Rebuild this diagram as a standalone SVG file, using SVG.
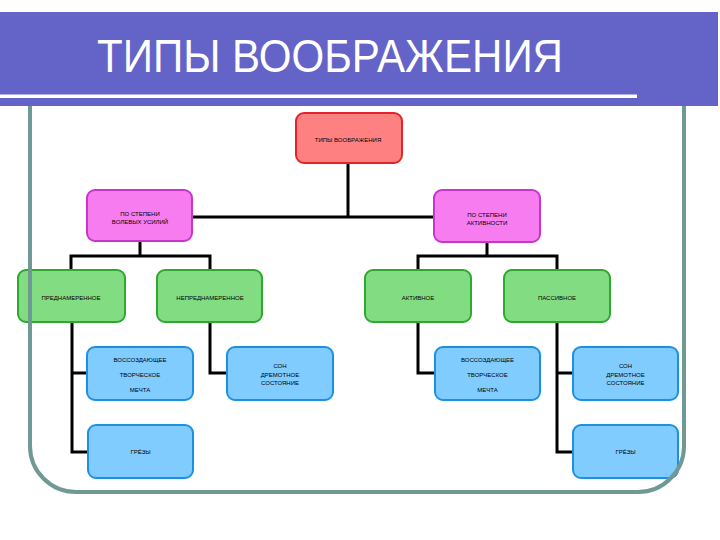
<svg xmlns="http://www.w3.org/2000/svg" width="720" height="540" viewBox="0 0 720 540">
<style>
.n rect{stroke-width:2}
.root rect{fill:#FF8080;stroke:#E0262A}
.mag rect{fill:#F67CF0;stroke:#C836C8}
.grn rect{fill:#82DC82;stroke:#2EA82E}
.blu rect{fill:#80CCFF;stroke:#1E90E0}
.n text{font-family:"Liberation Sans",Arial,sans-serif;font-size:6px;fill:#000;text-anchor:middle}
#connectors path{fill:none;stroke:#000;stroke-width:3}
.title{font-family:"Liberation Sans",Arial,sans-serif;font-size:47px;fill:#fff}
</style>
<rect x="0" y="0" width="720" height="540" fill="#fff"/>
<g id="title-bar">
<rect x="0" y="12" width="718" height="94" fill="#6464C8"/>
<rect x="0" y="94.5" width="637" height="3.5" fill="#fff"/>
<text class="title" x="97" y="72" textLength="466" lengthAdjust="spacingAndGlyphs">ТИПЫ ВООБРАЖЕНИЯ</text>
</g>
<g id="connectors">
<path d="M348,163 V217 M192,217 H434"/>
<path d="M140,241 V256 M71,270 V256 H210 V270"/>
<path d="M487,242 V256 M418,270 V256 H557 V270"/>
<path d="M72,322 V452 H88 M72,373 H87"/>
<path d="M210,322 V373 H227"/>
<path d="M418,322 V373 H435"/>
<path d="M557,322 V452 H573 M557,373 H573"/>
</g>
<g id="n-root" class="n root"><rect x="296" y="113" width="106" height="50" rx="8"/><text x="348" y="142">ТИПЫ ВООБРАЖЕНИЯ</text></g>
<g id="n-vol" class="n mag"><rect x="87" y="190" width="105" height="51" rx="8"/><text x="140" y="216">ПО СТЕПЕНИ</text><text x="140" y="224">ВОЛЕВЫХ УСИЛИЙ</text></g>
<g id="n-act" class="n mag"><rect x="434" y="190" width="106" height="52" rx="8"/><text x="487" y="217">ПО СТЕПЕНИ</text><text x="487" y="225">АКТИВНОСТИ</text></g>
<g id="n-pred" class="n grn"><rect x="18" y="270" width="107" height="52" rx="8"/><text x="71" y="300">ПРЕДНАМЕРЕННОЕ</text></g>
<g id="n-nepred" class="n grn"><rect x="157" y="270" width="105" height="52" rx="8"/><text x="210" y="300">НЕПРЕДНАМЕРЕННОЕ</text></g>
<g id="n-aktiv" class="n grn"><rect x="365" y="270" width="106" height="52" rx="8"/><text x="418" y="300">АКТИВНОЕ</text></g>
<g id="n-passiv" class="n grn"><rect x="504" y="270" width="106" height="52" rx="8"/><text x="557" y="300">ПАССИВНОЕ</text></g>
<g id="n-vos1" class="n blu"><rect x="87" y="347" width="106" height="53" rx="8"/><text x="140" y="362">ВОССОЗДАЮЩЕЕ</text><text x="140" y="377">ТВОРЧЕСКОЕ</text><text x="140" y="392">МЕЧТА</text></g>
<g id="n-son1" class="n blu"><rect x="227" y="347" width="106" height="53" rx="8"/><text x="280" y="368">СОН</text><text x="280" y="376.5">ДРЕМОТНОЕ</text><text x="280" y="385">СОСТОЯНИЕ</text></g>
<g id="n-vos2" class="n blu"><rect x="435" y="347" width="105" height="53" rx="8"/><text x="487.5" y="362">ВОССОЗДАЮЩЕЕ</text><text x="487.5" y="377">ТВОРЧЕСКОЕ</text><text x="487.5" y="392">МЕЧТА</text></g>
<g id="n-son2" class="n blu"><rect x="573" y="347" width="105" height="53" rx="8"/><text x="625.5" y="368">СОН</text><text x="625.5" y="376.5">ДРЕМОТНОЕ</text><text x="625.5" y="385">СОСТОЯНИЕ</text></g>
<g id="n-grezy1" class="n blu"><rect x="88" y="425" width="105" height="53" rx="8"/><text x="140.5" y="454">ГРЁЗЫ</text></g>
<g id="n-grezy2" class="n blu"><rect x="573" y="425" width="105" height="53" rx="8"/><text x="625.5" y="454">ГРЁЗЫ</text></g>
<path id="frame" d="M30,106 V446 A46,46 0 0 0 76,492 H638 A46,46 0 0 0 684,446 V106" fill="none" stroke="#6F9994" stroke-width="4"/>
</svg>
